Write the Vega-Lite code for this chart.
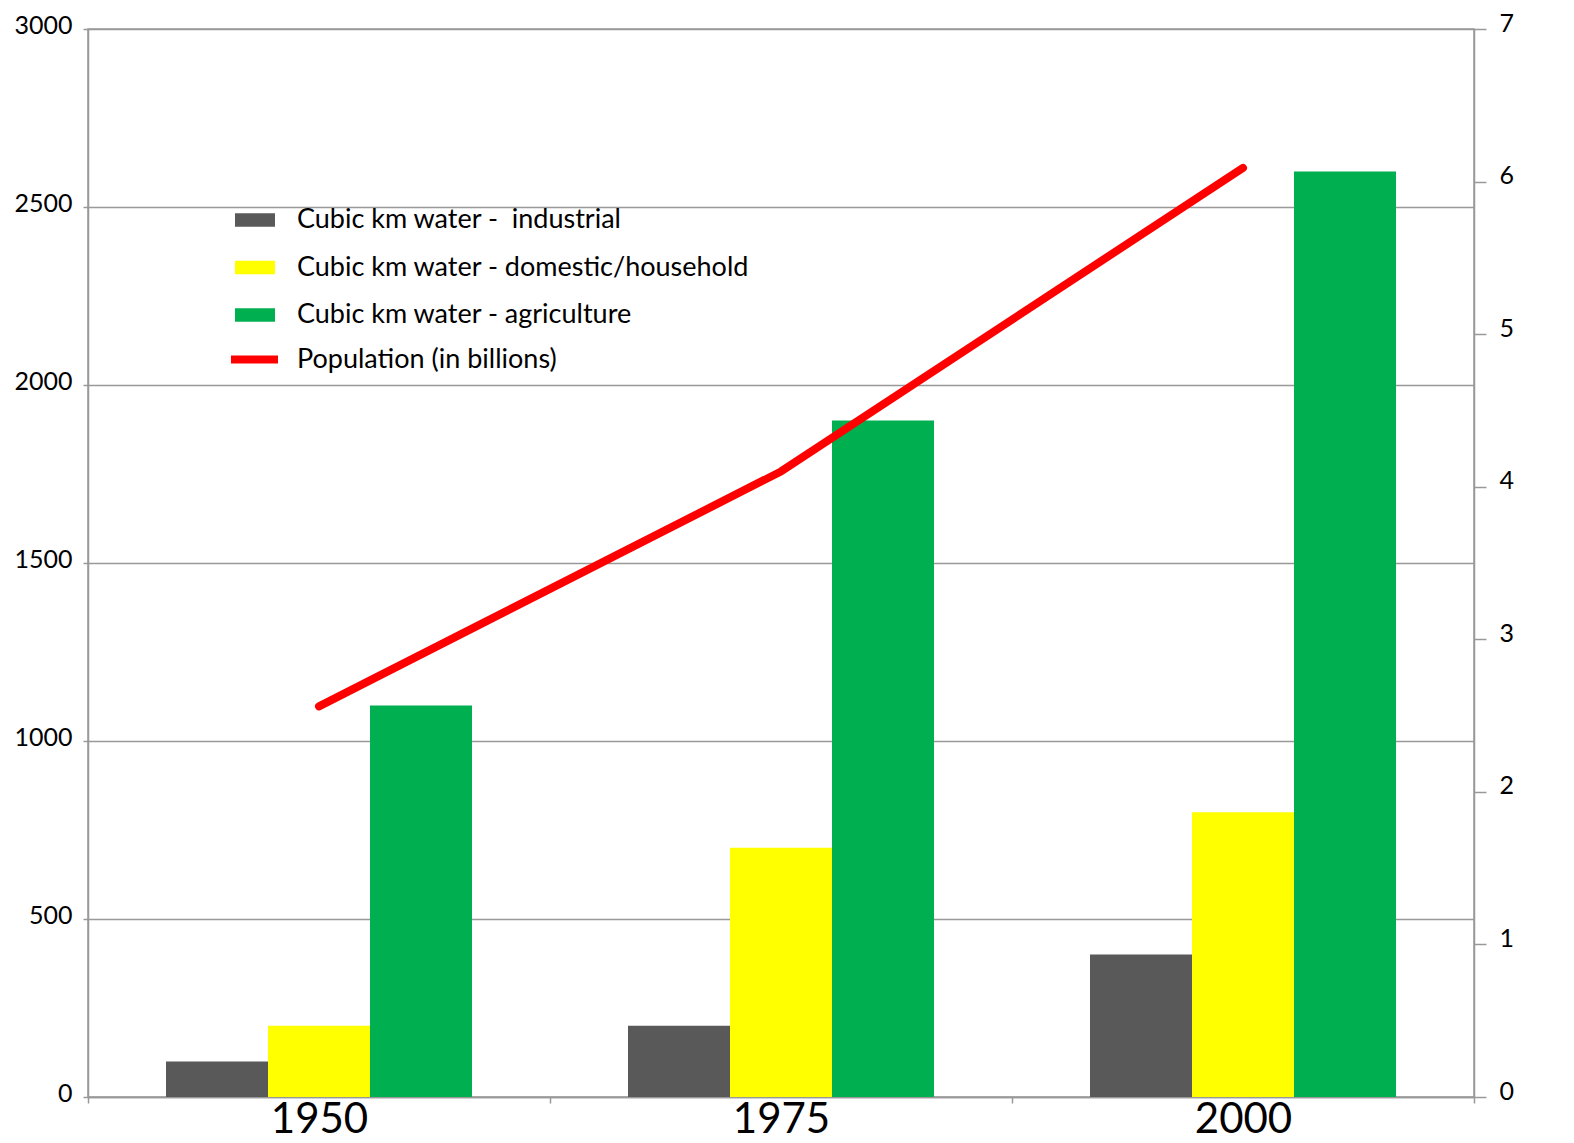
{
  "$schema": "https://vega.github.io/schema/vega-lite/v6.json",
  "autosize": {"type": "none"},
  "width": 1386,
  "height": 1068,
  "padding": {"left": 88, "top": 29, "right": 100, "bottom": 46},
  "background": "white",
  "config": {
    "font": "Lato",
    "view": {"stroke": "#999999", "strokeWidth": 1.5},
    "axis": {"labelColor": "black", "domainColor": "#999999", "tickColor": "#999999", "gridColor": "#999999", "gridWidth": 1.5, "domainWidth": 1.5, "tickWidth": 1.5, "titleColor": "black"},
    "legend": {"labelColor": "black"}
  },
  "datasets": {
    "water": [
      {"year": "1950", "category": "Cubic km water - \u00a0industrial", "value": 100},
      {"year": "1950", "category": "Cubic km water - domestic/household", "value": 200},
      {"year": "1950", "category": "Cubic km water - agriculture", "value": 1100},
      {"year": "1975", "category": "Cubic km water - \u00a0industrial", "value": 200},
      {"year": "1975", "category": "Cubic km water - domestic/household", "value": 700},
      {"year": "1975", "category": "Cubic km water - agriculture", "value": 1900},
      {"year": "2000", "category": "Cubic km water - \u00a0industrial", "value": 400},
      {"year": "2000", "category": "Cubic km water - domestic/household", "value": 800},
      {"year": "2000", "category": "Cubic km water - agriculture", "value": 2600}
    ],
    "pop": [
      {"year": "1950", "population": 2.56},
      {"year": "1975", "population": 4.1},
      {"year": "2000", "population": 6.09}
    ]
  },
  "encoding": {
    "x": {
      "field": "year", "type": "nominal", "title": null,
      "scale": {"paddingInner": 0, "paddingOuter": 0},
      "axis": {"labelAngle": 0, "labelFontSize": 42, "labelPadding": -4, "tickBand": "extent", "tickSize": 6, "grid": false}
    }
  },
  "layer": [
    {
      "data": {"name": "water"},
      "mark": {"type": "bar"},
      "encoding": {
        "xOffset": {"field": "category", "type": "nominal", "sort": ["Cubic km water - \u00a0industrial", "Cubic km water - domestic/household", "Cubic km water - agriculture"], "scale": {"paddingInner": 0, "paddingOuter": 0.7647}},
        "y": {
          "field": "value", "type": "quantitative", "title": null,
          "scale": {"domain": [0, 3000], "nice": false},
          "axis": {"orient": "left", "values": [0, 500, 1000, 1500, 2000, 2500, 3000], "format": "d", "labelFontSize": 25, "tickSize": 5, "labelPadding": 11, "labelOffset": -4, "grid": true}
        },
        "color": {
          "field": "category", "type": "nominal",
          "sort": ["Cubic km water - \u00a0industrial", "Cubic km water - domestic/household", "Cubic km water - agriculture"],
          "scale": {"domain": ["Cubic km water - \u00a0industrial", "Cubic km water - domestic/household", "Cubic km water - agriculture"], "range": ["#595959", "#FFFF00", "#00B050"]},
          "legend": {"title": null, "orient": "none", "legendX": 147, "legendY": 171, "direction": "vertical", "padding": 0, "symbolType": "M-1,-0.34H1V0.34H-1Z", "symbolSize": 1600, "symbolStrokeWidth": 0, "labelFontSize": 27, "labelOffset": 22, "rowPadding": 14.5, "labelLimit": 0}
        }
      }
    },
    {
      "data": {"name": "pop"},
      "mark": {"type": "line", "strokeWidth": 8, "strokeCap": "round", "strokeJoin": "round"},
      "encoding": {
        "y": {
          "field": "population", "type": "quantitative", "title": null,
          "scale": {"domain": [0, 7], "nice": false},
          "axis": {"orient": "right", "values": [0, 1, 2, 3, 4, 5, 6, 7], "labelFontSize": 25, "tickSize": 12, "labelPadding": 13, "labelOffset": -6, "grid": false}
        },
        "stroke": {
          "datum": "Population (in billions)", "type": "nominal",
          "scale": {"range": ["#FF0000"]},
          "legend": {"title": null, "orient": "none", "legendX": 139, "legendY": 303, "padding": 0, "symbolType": "stroke", "symbolSize": 2209, "symbolStrokeWidth": 8, "labelFontSize": 27, "labelOffset": 15, "labelLimit": 0}
        }
      }
    }
  ],
  "resolve": {"scale": {"y": "independent", "color": "independent", "stroke": "independent"}, "axis": {"y": "independent"}}
}
